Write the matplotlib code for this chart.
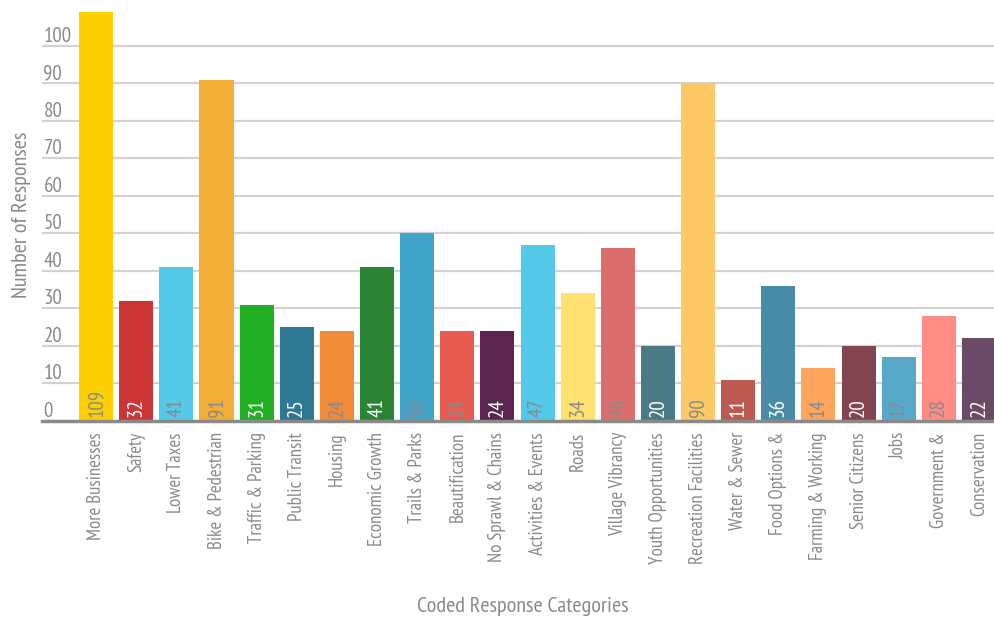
import numpy as np
import matplotlib
matplotlib.use('Agg')
import matplotlib.pyplot as plt
from matplotlib import font_manager

# Respuestas codificadas por categoría
categorias = ['More Businesses', 'Safety', 'Lower Taxes', 'Bike & Pedestrian',
              'Traffic & Parking', 'Public Transit', 'Housing', 'Economic Growth',
              'Trails & Parks', 'Beautification', 'No Sprawl & Chains',
              'Activities & Events', 'Roads', 'Village Vibrancy',
              'Youth Opportunities', 'Recreation Facilities', 'Water & Sewer',
              'Food Options &', 'Farming & Working', 'Senior Citizens', 'Jobs',
              'Government &', 'Conservation']
respuestas = [109, 32, 41, 91, 31, 25, 24, 41, 50, 24, 24, 47, 34, 46, 20, 90,
              11, 36, 14, 20, 17, 28, 22]
colores = ['#FFD000', '#CC3535', '#54C9E8', '#F2AE37', '#22AF24', '#2E7894',
           '#F28B37', '#2B8436', '#40A3C9', '#E85B50', '#5C2550', '#52C9E8',
           '#FFE170', '#DC6D6D', '#4A7A84', '#FFC866', '#BC5951', '#4A8CA8',
           '#FFA55E', '#84464E', '#58A9C9', '#FF8D86', '#6B4A65']
# color de la etiqueta de cada barra (blanco o gris)
color_etiqueta = ['g', 'w', 'g', 'g', 'w', 'w', 'g', 'w', 'g', 'g', 'w', 'g',
                  'g', 'g', 'w', 'g', 'w', 'w', 'g', 'w', 'g', 'g', 'w']
yticks = [0, 10, 20, 30, 40, 50, 60, 70, 80, 90, 100]

# fuente angosta: la primera que esté instalada
nombres = {f.name for f in font_manager.fontManager.ttflist}
angosta = 'DejaVu Sans'
for f in ['PT Sans Narrow', 'Open Sans Condensed', 'Roboto Condensed',
          'Fira Sans Condensed', 'Archivo Narrow', 'Ubuntu Condensed',
          'Liberation Sans Narrow']:
    if f in nombres:
        angosta = f
        break
gris = '#8A8A8A'

fig = plt.figure(figsize=(9.95, 6.18), dpi=100)
ax = fig.add_axes([0.0422, 0.3188, 0.9578, 0.68])

x = np.arange(len(categorias))
ax.bar(x, respuestas, width=0.85, color=colores, zorder=2)

for i, v in enumerate(respuestas):
    c = 'white' if color_etiqueta[i] == 'w' else gris
    ax.text(i, 1.0, str(v), rotation=90, ha='center', va='bottom',
            fontsize=15, color=c, family=angosta, zorder=3)

ax.set_xlim(-1.35, 22.4)
ax.set_ylim(0, 112)
ax.set_yticks(yticks)
ax.yaxis.grid(True, color='#D3D3D3', linewidth=1.6, zorder=0)
ax.set_axisbelow(True)
ax.tick_params(axis='y', length=0, pad=-1, labelcolor=gris, labelsize=15)
for lab in ax.get_yticklabels():
    lab.set_ha('left')
    lab.set_va('bottom')
    lab.set_family(angosta)

ax.set_xticks(x)
ax.set_xticklabels(categorias, rotation=90, fontsize=13.5, color=gris,
                   family=angosta)
ax.tick_params(axis='x', length=0, pad=8)

for s in ['top', 'right', 'left']:
    ax.spines[s].set_visible(False)
ax.spines['bottom'].set_color('#8A8A8A')
ax.spines['bottom'].set_linewidth(2.5)
ax.spines['bottom'].set_zorder(4)

ax.set_ylabel('Number of Responses', fontsize=16, color=gris, family=angosta)
ax.yaxis.set_label_coords(-0.0115, 0.49)
fig.text(0.525, 0.019, 'Coded Response Categories', ha='center', va='center',
         fontsize=16, color=gris, family=angosta)

plt.savefig('out.png', dpi=100)
